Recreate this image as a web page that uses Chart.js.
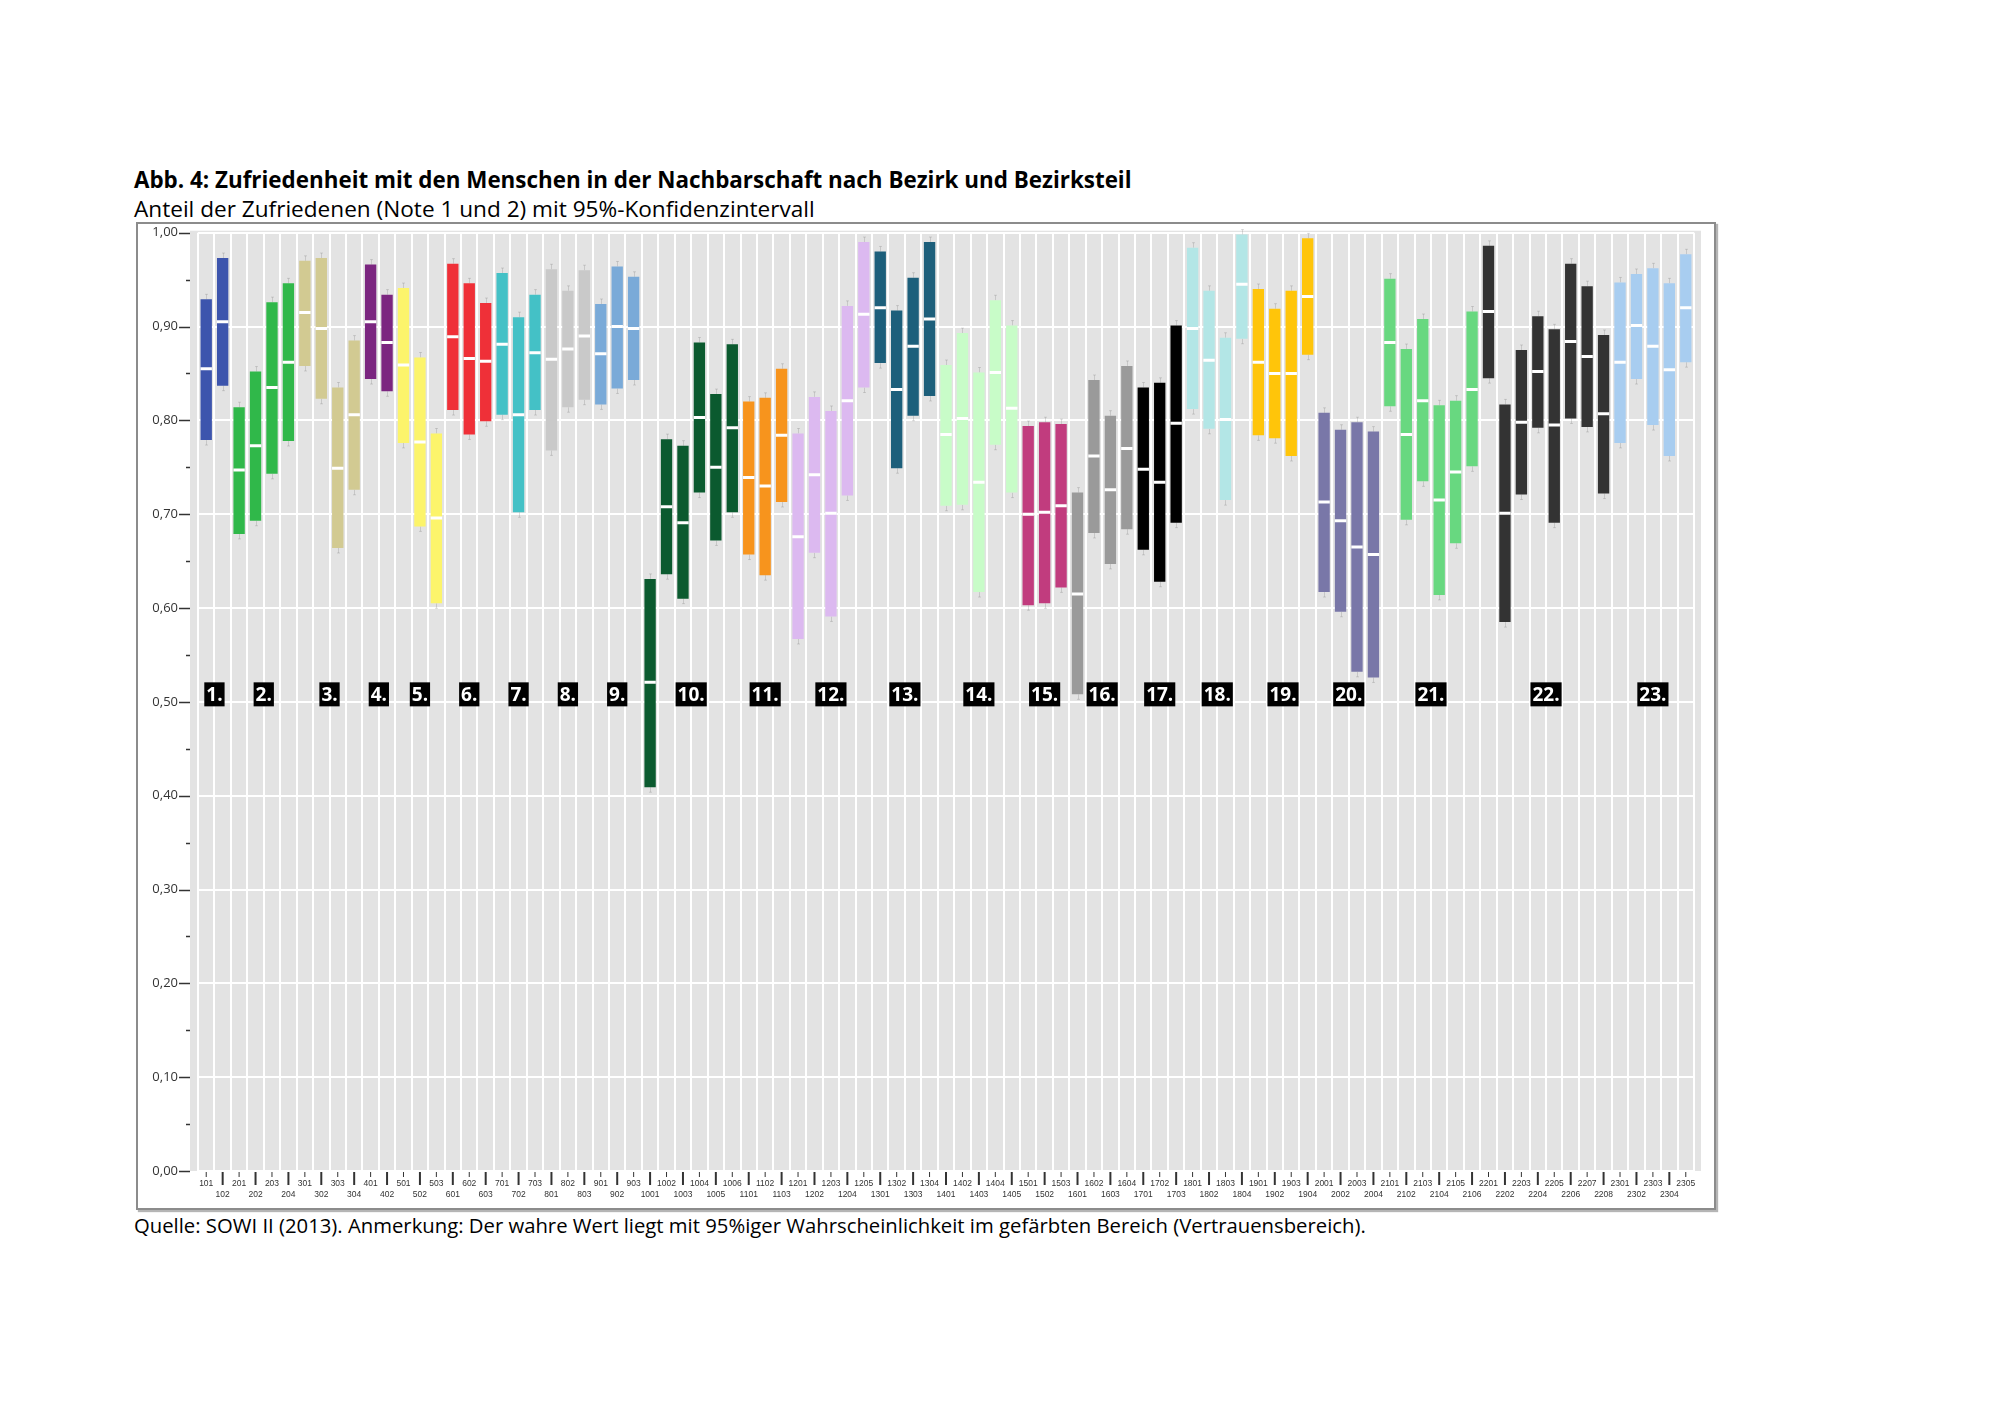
<!DOCTYPE html>
<html>
<head>
<meta charset="utf-8">
<script src="https://cdn.jsdelivr.net/npm/chart.js@4.4.1/dist/chart.umd.min.js"></script>
<style>
body { margin: 0; background: #fff; width: 2000px; height: 1414px; position: relative; font-family: "Open Sans", "Noto Sans", sans-serif; color: #000; }
.txt { position: absolute; left: 134px; line-height: 1; white-space: nowrap; }
#titel { top: 169px; font-size: 22.4px; font-weight: bold; }
#untertitel { top: 197.5px; font-size: 22.6px; }
#quelle { top: 1214.5px; font-size: 20.3px; }
#rahmen { position: absolute; left: 136px; top: 222px; width: 1576px; height: 984px; border: 2px solid #8c8c8c; box-shadow: 2px 2px 1px #b5b5b5; }
</style>
</head>
<body>
<div class="txt" id="titel">Abb. 4: Zufriedenheit mit den Menschen in der Nachbarschaft nach Bezirk und Bezirksteil</div>
<div class="txt" id="untertitel">Anteil der Zufriedenen (Note 1 und 2) mit 95%-Konfidenzintervall</div>
<div id="rahmen"><canvas id="grafik" width="1576" height="984"></canvas></div>
<div class="txt" id="quelle">Quelle: SOWI II (2013). Anmerkung: Der wahre Wert liegt mit 95%iger Wahrscheinlichkeit im gefärbten Bereich (Vertrauensbereich).</div>
<script>
// Bezirke und Anzahl der Bezirksteile je Bezirk
const bezirke = ['1.', '2.', '3.', '4.', '5.', '6.', '7.', '8.', '9.', '10.', '11.', '12.',
    '13.', '14.', '15.', '16.', '17.', '18.', '19.', '20.', '21.', '22.', '23.'];
const teileJeBezirk = [2, 4, 4, 2, 3, 3, 3, 3, 3, 6, 3, 5, 4, 5, 3, 4, 3, 4, 4, 4, 6, 8, 5];
const farben = ['#3d55ad', '#30b84a', '#d2ca92', '#7b2680', '#fcf46b', '#ef3038', '#44c1c6', '#c9c9c9',
    '#7aaad8', '#0b5a2f', '#f7941d', '#dcb9f0', '#1d5f7b', '#c8fcc8', '#c13c7e', '#9a9a9a',
    '#000000', '#b3e6e6', '#ffc50a', '#7977a8', '#68d880', '#333333', '#a8cdf0'];

const bezirksteile = ['101', '102', '201', '202', '203', '204', '301', '302', '303', '304', '401', '402',
    '501', '502', '503', '601', '602', '603', '701', '702', '703', '801', '802', '803', '901', '902', '903',
    '1001', '1002', '1003', '1004', '1005', '1006', '1101', '1102', '1103', '1201', '1202', '1203', '1204', '1205',
    '1301', '1302', '1303', '1304', '1401', '1402', '1403', '1404', '1405', '1501', '1502', '1503',
    '1601', '1602', '1603', '1604', '1701', '1702', '1703', '1801', '1802', '1803', '1804',
    '1901', '1902', '1903', '1904', '2001', '2002', '2003', '2004', '2101', '2102', '2103', '2104', '2105', '2106',
    '2201', '2202', '2203', '2204', '2205', '2206', '2207', '2208', '2301', '2302', '2303', '2304', '2305'];

// Anteil der Zufriedenen und 95%-Konfidenzintervall
const anteil = [0.855, 0.905, 0.747, 0.773, 0.835, 0.862, 0.915, 0.898, 0.749, 0.806, 0.905, 0.883,
    0.859, 0.777, 0.696, 0.889, 0.866, 0.863, 0.881, 0.806, 0.872, 0.865, 0.876, 0.890, 0.871, 0.900, 0.898,
    0.521, 0.708, 0.691, 0.803, 0.750, 0.792, 0.739, 0.730, 0.784, 0.676, 0.742, 0.701, 0.821, 0.913,
    0.920, 0.833, 0.879, 0.908, 0.785, 0.802, 0.734, 0.851, 0.813, 0.700, 0.702, 0.709,
    0.615, 0.762, 0.726, 0.770, 0.748, 0.734, 0.797, 0.898, 0.864, 0.801, 0.945,
    0.862, 0.850, 0.850, 0.932, 0.713, 0.693, 0.665, 0.657, 0.883, 0.785, 0.821, 0.715, 0.745, 0.833,
    0.916, 0.701, 0.798, 0.852, 0.795, 0.884, 0.868, 0.807, 0.862, 0.901, 0.879, 0.854, 0.920];
const untergrenze = [0.779, 0.837, 0.679, 0.693, 0.743, 0.778, 0.858, 0.823, 0.664, 0.726, 0.844, 0.831,
    0.776, 0.687, 0.605, 0.811, 0.785, 0.799, 0.806, 0.702, 0.811, 0.768, 0.814, 0.822, 0.817, 0.834, 0.843,
    0.409, 0.636, 0.610, 0.723, 0.672, 0.702, 0.657, 0.635, 0.713, 0.567, 0.659, 0.591, 0.720, 0.835,
    0.861, 0.749, 0.805, 0.826, 0.709, 0.710, 0.617, 0.774, 0.723, 0.603, 0.605, 0.622,
    0.508, 0.680, 0.647, 0.684, 0.662, 0.628, 0.691, 0.812, 0.791, 0.715, 0.887,
    0.784, 0.781, 0.762, 0.870, 0.617, 0.596, 0.532, 0.526, 0.815, 0.694, 0.735, 0.614, 0.669, 0.751,
    0.845, 0.585, 0.721, 0.792, 0.691, 0.802, 0.793, 0.722, 0.776, 0.844, 0.795, 0.762, 0.862];
const obergrenze = [0.929, 0.973, 0.814, 0.852, 0.926, 0.946, 0.970, 0.973, 0.835, 0.885, 0.966, 0.934,
    0.941, 0.867, 0.786, 0.967, 0.946, 0.925, 0.957, 0.910, 0.934, 0.961, 0.938, 0.960, 0.924, 0.964, 0.953,
    0.631, 0.780, 0.773, 0.883, 0.828, 0.881, 0.820, 0.824, 0.855, 0.786, 0.825, 0.810, 0.922, 0.990,
    0.980, 0.917, 0.952, 0.990, 0.859, 0.893, 0.851, 0.928, 0.901, 0.794, 0.798, 0.796,
    0.723, 0.843, 0.805, 0.858, 0.835, 0.840, 0.901, 0.984, 0.938, 0.888, 0.998,
    0.940, 0.919, 0.938, 0.994, 0.808, 0.790, 0.798, 0.788, 0.951, 0.876, 0.908, 0.816, 0.821, 0.916,
    0.986, 0.817, 0.875, 0.911, 0.897, 0.967, 0.943, 0.891, 0.947, 0.956, 0.962, 0.946, 0.977];

// Farbe je Bezirksteil
var balkenFarben = [];
teileJeBezirk.forEach(function (n, b) {
    for (var k = 0; k < n; k++) balkenFarben.push(farben[b]);
});

var intervalle = bezirksteile.map(function (t, i) { return [untergrenze[i], obergrenze[i]]; });
// Beschriftung abwechselnd oben / unten
var xLabels = bezirksteile.map(function (t, i) { return i % 2 === 0 ? [t, ''] : ['', t]; });

const hintergrund = {
    id: 'hintergrund',
    beforeDraw: function (chart) {
        var a = chart.chartArea, ctx = chart.ctx;
        ctx.save();
        ctx.fillStyle = '#e3e3e3';
        ctx.fillRect(a.left - 8, a.top - 2, a.right - a.left + 15, a.bottom - a.top + 2);
        ctx.restore();
    },
    // feine Fehlerbalken-Enden ueber und unter den Balken
    beforeDatasetsDraw: function (chart) {
        var ctx = chart.ctx, xs = chart.scales.x, ys = chart.scales.y;
        ctx.save();
        ctx.strokeStyle = 'rgba(90,90,90,0.2)';
        ctx.lineWidth = 1;
        bezirksteile.forEach(function (t, i) {
            var x = Math.round(xs.getPixelForValue(i)) + 0.5;
            var yo = ys.getPixelForValue(obergrenze[i]), yu = ys.getPixelForValue(untergrenze[i]);
            ctx.beginPath();
            ctx.moveTo(x, yo); ctx.lineTo(x, yo - 5);
            ctx.moveTo(x - 1.5, yo - 5); ctx.lineTo(x + 1.5, yo - 5);
            ctx.moveTo(x, yu); ctx.lineTo(x, yu + 5);
            ctx.moveTo(x - 1.5, yu + 5); ctx.lineTo(x + 1.5, yu + 5);
            ctx.stroke();
        });
        ctx.restore();
    }
};

const striche = {
    id: 'striche',
    afterDraw: function (chart) {
        var a = chart.chartArea, ctx = chart.ctx;
        var xs = chart.scales.x, ys = chart.scales.y;
        ctx.save();
        ctx.strokeStyle = '#333';
        // y-Achse: Haupt- und Nebenstriche
        ys.ticks.forEach(function (t) {
            var y = Math.round(ys.getPixelForValue(t.value)) + 0.5;
            var haupt = Math.round(t.value * 100) % 10 === 0;
            ctx.lineWidth = 1.5;
            ctx.beginPath();
            ctx.moveTo(a.left - (haupt ? 19 : 12), y);
            ctx.lineTo(a.left - 8, y);
            ctx.stroke();
        });
        // x-Achse
        bezirksteile.forEach(function (t, i) {
            var x = xs.getPixelForValue(i);
            ctx.lineWidth = i % 2 === 0 ? 1 : 2;
            ctx.beginPath();
            ctx.moveTo(x, a.bottom + 1);
            ctx.lineTo(x, a.bottom + (i % 2 === 0 ? 6 : 14));
            ctx.stroke();
        });
        // Bezirksnummern
        ctx.font = 'bold 19px "Open Sans", "Noto Sans", sans-serif';
        ctx.textAlign = 'center';
        ctx.textBaseline = 'middle';
        var yb = ys.getPixelForValue(0.508);
        var start = 0;
        bezirke.forEach(function (name, b) {
            var n = teileJeBezirk[b];
            var x = (xs.getPixelForValue(start) + xs.getPixelForValue(start + n - 1)) / 2;
            var w = ctx.measureText(name).width + 4;
            ctx.fillStyle = '#000';
            ctx.fillRect(x - w / 2, yb - 12, w, 24);
            ctx.fillStyle = '#fff';
            ctx.fillText(name, x, yb + 1);
            start += n;
        });
        ctx.restore();
    }
};

var ctx = document.getElementById('grafik').getContext('2d');
new Chart(ctx, {
    type: 'bar',
    data: {
        labels: xLabels,
        datasets: [{
            label: 'Konfidenzintervall',
            data: intervalle,
            backgroundColor: balkenFarben,
            borderWidth: 0,
            borderSkipped: false,
            barPercentage: 0.69,
            categoryPercentage: 1.0,
            order: 2
        }, {
            type: 'line',
            label: 'Anteil',
            data: anteil,
            showLine: false,
            pointStyle: 'line',
            pointRadius: 5.7,
            pointBorderWidth: 3,
            pointBorderColor: '#ffffff',
            pointBackgroundColor: '#ffffff',
            order: 1
        }]
    },
    options: {
        responsive: false,
        animation: false,
        layout: { padding: { top: 7.5, right: 20, bottom: 0, left: 0 } },
        plugins: { legend: { display: false }, tooltip: { enabled: false } },
        scales: {
            x: {
                offset: true,
                grid: { offset: true, color: '#ffffff', lineWidth: 2, drawTicks: false },
                border: { display: false },
                ticks: {
                    autoSkip: false, maxRotation: 0, minRotation: 0, padding: 8,
                    color: '#333', font: { family: '"Liberation Sans Narrow", "Liberation Sans", sans-serif', size: 8.5, lineHeight: 1.2 }
                },
                afterFit: function (s) { s.height = 37; s.paddingLeft = 0; s.paddingRight = 0; }
            },
            y: {
                min: 0, max: 1,
                grid: {
                    color: function (c) { return Math.round(c.tick.value * 100) % 10 === 0 ? '#ffffff' : 'rgba(0,0,0,0)'; },
                    lineWidth: 2, drawTicks: false
                },
                border: { display: false },
                ticks: {
                    stepSize: 0.05, padding: 20, color: '#333',
                    font: { family: '"Open Sans", "Noto Sans", sans-serif', size: 13 },
                    callback: function (v) {
                        return Math.round(v * 100) % 10 === 0 ? v.toFixed(2).replace('.', ',') : '';
                    }
                },
                afterFit: function (s) { s.width = 60; s.paddingTop = 0; s.paddingBottom = 0; }
            }
        }
    },
    plugins: [hintergrund, striche]
});
</script>
</body>
</html>
